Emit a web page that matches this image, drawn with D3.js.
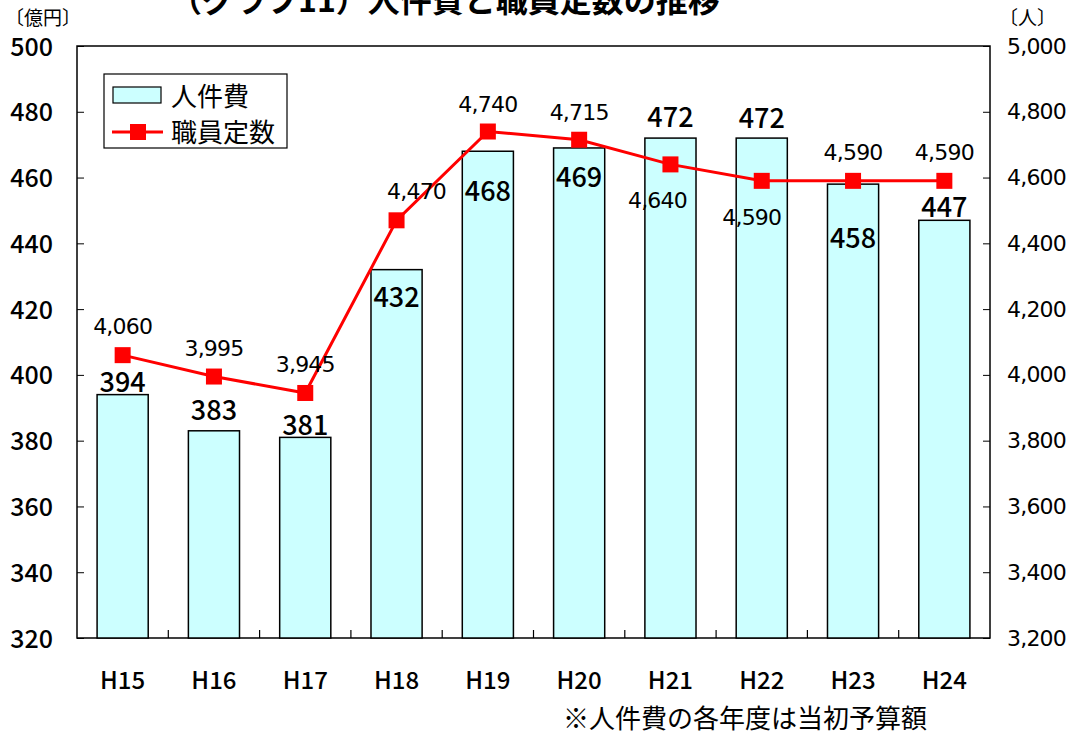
<!DOCTYPE html>
<html>
<head>
<meta charset="utf-8">
<script src="https://cdn.jsdelivr.net/npm/d3@7"></script>
<style>
  body { margin: 0; background: #fff; }
  text { font-family: "Noto Sans CJK JP", "Noto Sans", sans-serif; }
  .thin { font-family: "DejaVu Sans", sans-serif; }
</style>
</head>
<body>
<svg id="chart" width="1076" height="735"></svg>
<script>
// data
const years = ["H15", "H16", "H17", "H18", "H19", "H20", "H21", "H22", "H23", "H24"];
const personnelCost = [394, 383, 381, 432, 468, 469, 472, 472, 458, 447];
const staffCount = [4060, 3995, 3945, 4470, 4740, 4715, 4640, 4590, 4590, 4590];
const leftTicks = [320, 340, 360, 380, 400, 420, 440, 460, 480, 500];
const rightTicks = [3200, 3400, 3600, 3800, 4000, 4200, 4400, 4600, 4800, 5000];
// label nudges (px) so labels don't collide with the line
const barLabelDy = [-3, -11, -2, 37, 50, 39, -11, -10, 64, -3];
const lineLabelDy = [-21, -21, -21, -21, -20, -20, 44, 44, -21, -21];
const lineLabelDx = [0, 0, 0, 20, 0, 0, -13, -10, 0, 0];

const svg = d3.select("#chart");
const margin = { left: 77, right: 86, top: 46, bottom: 97 };
const width = 1076 - margin.left - margin.right;
const height = 735 - margin.top - margin.bottom;

const g = svg.append("g")
  .attr("transform", `translate(${margin.left}, ${margin.top})`);

const x = d3.scaleBand().domain(years).range([0, width]).paddingInner(0.44).paddingOuter(0.22);
const xCenter = d => x(d) + x.bandwidth() / 2;
const yL = d3.scaleLinear().domain([320, 500]).range([height, 0]);
const yR = d3.scaleLinear().domain([3200, 5000]).range([height, 0]);

// frame
g.append("rect")
  .attr("width", width).attr("height", height)
  .attr("fill", "none").attr("stroke", "#000").attr("stroke-width", 1.5);

// left axis (ticks inside)
const leftAxis = g.append("g")
  .call(d3.axisLeft(yL).tickValues(leftTicks).tickSize(-7).tickPadding(24));
leftAxis.select(".domain").remove();
leftAxis.selectAll("text")
  .attr("font-size", 25).attr("font-weight", 500).attr("fill", "#000")
  .attr("dy", "0.36em");

// right axis
const rightAxis = g.append("g")
  .attr("transform", `translate(${width}, 0)`)
  .call(d3.axisRight(yR).tickValues(rightTicks).tickSize(-7).tickPadding(17).tickFormat(d3.format(",")));
rightAxis.select(".domain").remove();
rightAxis.selectAll("text")
  .attr("class", "thin")
  .attr("font-size", 22).attr("fill", "#000").attr("letter-spacing", "-0.8");

// x axis
const step = width / years.length;
g.append("g").selectAll("line")
  .data(years.slice(1))
  .join("line")
    .attr("x1", (d, i) => step * (i + 1)).attr("x2", (d, i) => step * (i + 1))
    .attr("y1", height).attr("y2", height - 8)
    .attr("stroke", "#000").attr("stroke-width", 1.2);

g.append("g").selectAll("text")
  .data(years)
  .join("text")
    .attr("x", d => xCenter(d))
    .attr("y", height + 51)
    .attr("text-anchor", "middle")
    .attr("font-size", 24).attr("font-weight", 500)
    .text(d => d);

// bars
g.append("g").selectAll("rect")
  .data(personnelCost)
  .join("rect")
    .attr("x", (d, i) => x(years[i]))
    .attr("y", d => yL(d))
    .attr("width", x.bandwidth())
    .attr("height", d => height - yL(d))
    .attr("fill", "#ccffff")
    .attr("stroke", "#000").attr("stroke-width", 1.5);

// line
const line = d3.line()
  .x((d, i) => xCenter(years[i]))
  .y(d => yR(d));

g.append("path")
  .datum(staffCount)
  .attr("d", line)
  .attr("fill", "none").attr("stroke", "#ff0000").attr("stroke-width", 3);

g.append("g").selectAll("rect")
  .data(staffCount)
  .join("rect")
    .attr("x", (d, i) => xCenter(years[i]) - 8)
    .attr("y", d => yR(d) - 8)
    .attr("width", 16).attr("height", 16)
    .attr("fill", "#ff0000");

// bar labels
g.append("g").selectAll("text")
  .data(personnelCost)
  .join("text")
    .attr("x", (d, i) => xCenter(years[i]))
    .attr("y", (d, i) => yL(d) + barLabelDy[i])
    .attr("text-anchor", "middle")
    .attr("font-size", 27).attr("font-weight", 500)
    .text(d => d);

// line labels
g.append("g").selectAll("text")
  .data(staffCount)
  .join("text")
    .attr("class", "thin")
    .attr("x", (d, i) => xCenter(years[i]) + lineLabelDx[i])
    .attr("y", (d, i) => yR(d) + lineLabelDy[i])
    .attr("text-anchor", "middle")
    .attr("font-size", 22).attr("letter-spacing", "-0.8")
    .text(d => d3.format(",")(d));

// legend
const legend = g.append("g").attr("transform", "translate(27, 28)");
legend.append("rect")
  .attr("width", 183).attr("height", 74)
  .attr("fill", "#fff").attr("stroke", "#000").attr("stroke-width", 1.2);
legend.append("rect")
  .attr("x", 9).attr("y", 13).attr("width", 48).attr("height", 16)
  .attr("fill", "#ccffff").attr("stroke", "#000").attr("stroke-width", 1.2);
legend.append("text")
  .attr("x", 67).attr("y", 32).attr("font-size", 26).text("人件費");
legend.append("line")
  .attr("x1", 8).attr("x2", 59).attr("y1", 58).attr("y2", 58)
  .attr("stroke", "#ff0000").attr("stroke-width", 3);
legend.append("rect")
  .attr("x", 26).attr("y", 50).attr("width", 16).attr("height", 16)
  .attr("fill", "#ff0000");
legend.append("text")
  .attr("x", 67).attr("y", 68).attr("font-size", 26).text("職員定数");

// titles and units
svg.append("text")
  .attr("x", 445).attr("y", 12)
  .attr("text-anchor", "middle")
  .attr("font-size", 32).attr("font-weight", "bold")
  .text("（グラフ11）人件費と職員定数の推移");
svg.append("text")
  .attr("x", 5).attr("y", 25).attr("font-size", 19).text("〔億円〕");
svg.append("text")
  .attr("x", 999).attr("y", 25).attr("font-size", 19).text("〔人〕");
svg.append("text")
  .attr("x", 563).attr("y", 728).attr("font-size", 26).text("※人件費の各年度は当初予算額");
</script>
</body>
</html>
